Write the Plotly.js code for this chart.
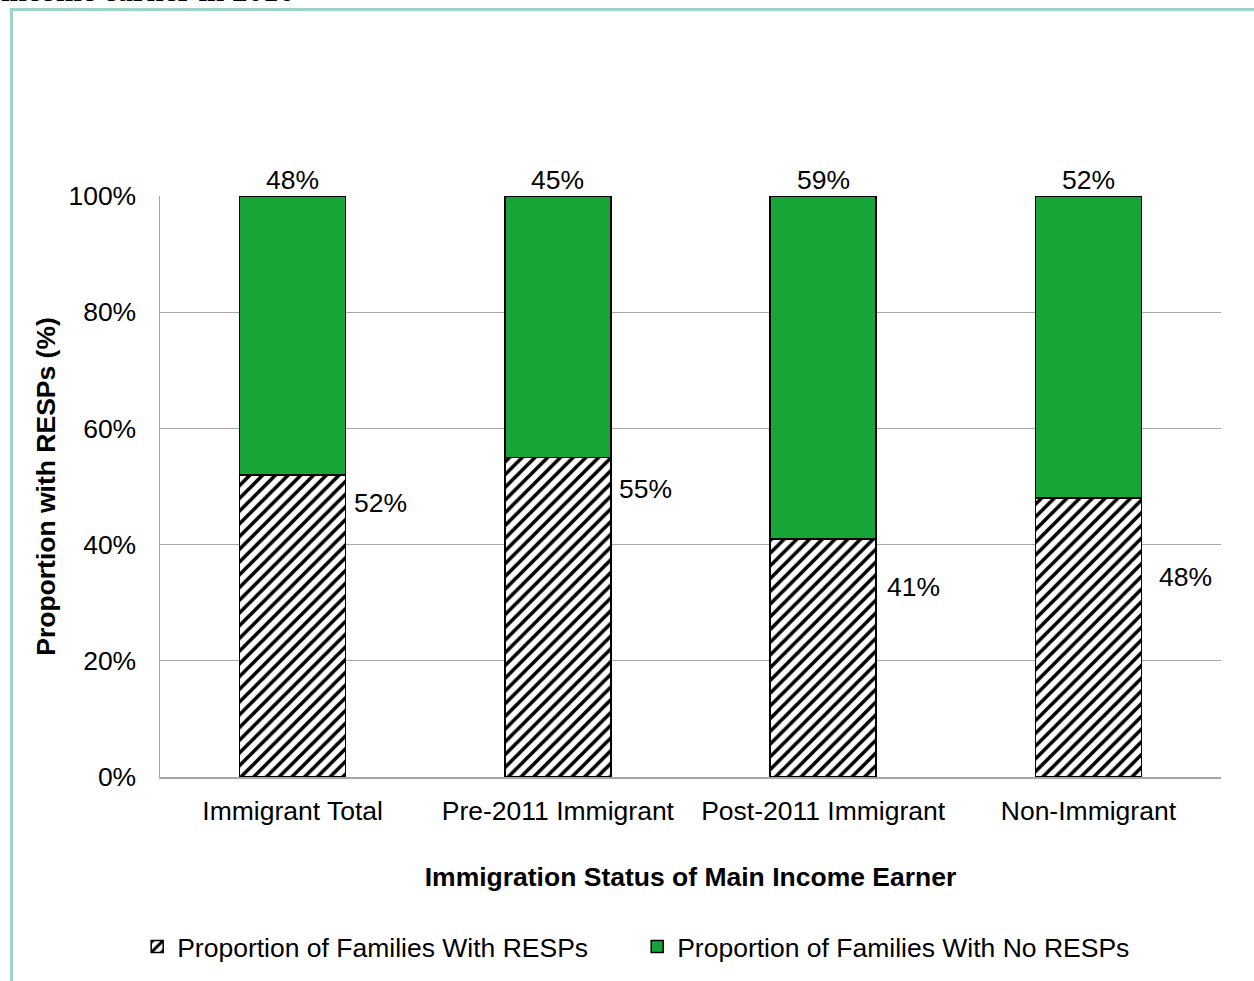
<!DOCTYPE html>
<html>
<head>
<meta charset="utf-8">
<script src="https://cdn.plot.ly/plotly-3.0.1.min.js"></script>
<style>
  html, body { margin: 0; padding: 0; background: #ffffff; width: 1254px; height: 981px; overflow: hidden; }
  #frame { position: absolute; left: 10px; top: 8px; width: 1250px; height: 980px;
           border-top: 3px solid #9dd4ca; border-left: 3px solid #9dd4ca; box-sizing: border-box; }
  #cuttitle { position: absolute; left: 1px; top: -24px; font-family: "Liberation Serif", "DejaVu Serif", serif;
              font-weight: bold; font-size: 31px; line-height: 30px; color: #000; white-space: nowrap; }
  #chart { position: absolute; left: 0; top: 0; width: 1254px; height: 981px; }
</style>
</head>
<body>
<div id="cuttitle">income earner in 2016</div>
<div id="frame"></div>
<div id="chart"></div>
<script>
// ---- data ----
const categories = ["Immigrant Total", "Pre-2011 Immigrant", "Post-2011 Immigrant", "Non-Immigrant"];
const withResps = [0.52, 0.55, 0.41, 0.48];
const noResps = [0.48, 0.45, 0.59, 0.52];
const seriesNames = ["Proportion of Families With RESPs", "Proportion of Families With No RESPs"];
const yTickValues = [0, 0.2, 0.4, 0.6, 0.8, 1.0];

// label placement tweaks (pixels), as in the original chart
const sideLabelGap = [6, 6, 9, 16];
const sideLabelDrop = [28, 32, 48, 79];

const FONT = "Liberation Sans, Arial, sans-serif";
const FS = 26.5;
const BARW = 0.4;

const traces = [
  {
    type: "bar", name: seriesNames[0], x: categories, y: withResps, width: BARW,
    marker: { color: "#ffffff", line: { color: "#000000", width: 1.5 },
      pattern: { shape: "/", fgcolor: "#000000", bgcolor: "#ffffff", size: 9, solidity: 0.4 } },
    hoverinfo: "skip"
  },
  {
    type: "bar", name: seriesNames[1], x: categories, y: noResps, width: BARW,
    marker: { color: "#17a538", line: { color: "#000000", width: 1.5 } },
    hoverinfo: "skip"
  }
];

const fmt = v => Math.round(v * 100) + "%";
const annotations = [];
categories.forEach((c, i) => {
  annotations.push({
    x: i, y: withResps[i] + noResps[i], xref: "x", yref: "y",
    text: fmt(noResps[i]), showarrow: false, xanchor: "center", yanchor: "bottom",
    yshift: -1, font: { family: FONT, size: FS, color: "#000" }
  });
  annotations.push({
    x: i + BARW / 2, y: withResps[i], xref: "x", yref: "y",
    text: fmt(withResps[i]), showarrow: false, xanchor: "left", yanchor: "middle",
    xshift: sideLabelGap[i], yshift: -sideLabelDrop[i], font: { family: FONT, size: FS, color: "#000" }
  });
});

const layout = {
  width: 1254, height: 981,
  margin: { l: 160, r: 33, t: 196, b: 203 },
  paper_bgcolor: "rgba(0,0,0,0)", plot_bgcolor: "rgba(0,0,0,0)",
  barmode: "stack",
  font: { family: FONT, size: FS, color: "#000" },
  showlegend: true,
  legend: {
    orientation: "h", x: -0.0215, xanchor: "left", y: -0.29, yanchor: "middle",
    font: { family: FONT, size: FS, color: "#000" }, entrywidth: 455, traceorder: "normal",
    bgcolor: "rgba(0,0,0,0)"
  },
  xaxis: {
    type: "category", showgrid: false, showline: true, linecolor: "#a6a6a6", linewidth: 1.5,
    ticks: "", ticklabelstandoff: 10, tickfont: { family: FONT, size: FS },
    title: { text: "Immigration Status of Main Income Earner", font: { family: FONT, size: FS, weight: "bold" }, standoff: 42 },
    fixedrange: true
  },
  yaxis: {
    range: [0, 1], tickvals: yTickValues, tickformat: ".0%", showgrid: true, gridcolor: "#a6a6a6", gridwidth: 1.2,
    showline: true, linecolor: "#a6a6a6", linewidth: 1.5, zeroline: false,
    ticks: "", ticklabelstandoff: 17, tickfont: { family: FONT, size: FS },
    title: { text: "Proportion with RESPs (%)", font: { family: FONT, size: FS, weight: "bold" }, standoff: 5 },
    fixedrange: true
  },
  annotations: annotations
};

Plotly.newPlot("chart", traces, layout, { displayModeBar: false, staticPlot: true });
</script>
</body>
</html>
